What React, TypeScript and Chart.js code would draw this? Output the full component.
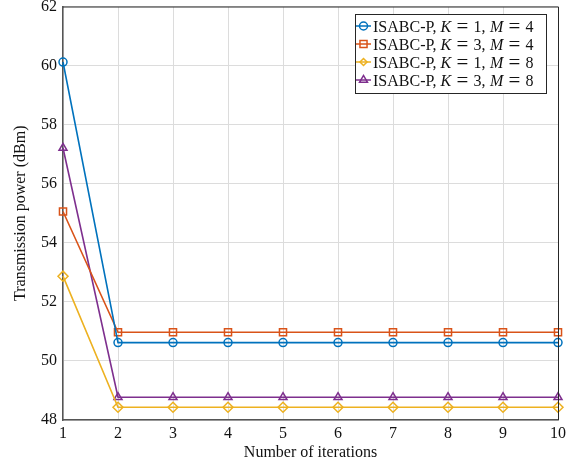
import React, { useEffect, useRef } from "react";
import { Chart, registerables } from "chart.js";
Chart.register(...registerables);

const iterations = [1, 2, 3, 4, 5, 6, 7, 8, 9, 10];
const seriesK1M4 = [60.12, 50.62, 50.62, 50.62, 50.62, 50.62, 50.62, 50.62, 50.62, 50.62];
const seriesK3M4 = [55.06, 50.97, 50.97, 50.97, 50.97, 50.97, 50.97, 50.97, 50.97, 50.97];
const seriesK1M8 = [52.87, 48.43, 48.43, 48.43, 48.43, 48.43, 48.43, 48.43, 48.43, 48.43];
const seriesK3M8 = [57.21, 48.77, 48.77, 48.77, 48.77, 48.77, 48.77, 48.77, 48.77, 48.77];
const legendK = ["1", "3", "1", "3"];
const legendM = ["4", "4", "8", "8"];
const colors = ["#0072BD", "#D95319", "#EDB120", "#7E2F8E"];
const markers = ["circle", "rect", "rectRot", "triangle"];
const radii = [4, 5, 5, 4.6];
const yTitle = "Transmission power (dBm)";
const xTitle = "Number of iterations";

const FONT = '"Liberation Serif", "Times New Roman", serif';
const FS = 16;

function drawMarker(ctx: CanvasRenderingContext2D, style: string, x: number, y: number, r: number) {
  ctx.beginPath();
  if (style === "circle") {
    ctx.arc(x, y, r, 0, Math.PI * 2);
  } else if (style === "rect") {
    const s = r * Math.SQRT1_2;
    ctx.rect(x - s, y - s, 2 * s, 2 * s);
  } else if (style === "rectRot") {
    const s = r * Math.SQRT1_2;
    ctx.moveTo(x - s, y);
    ctx.lineTo(x, y + s);
    ctx.lineTo(x + s, y);
    ctx.lineTo(x, y - s);
    ctx.closePath();
  } else {
    const h = r * 1.5;
    const side = (r * 3) / Math.sqrt(3);
    ctx.moveTo(x - side / 2, y + h / 3);
    ctx.lineTo(x + side / 2, y + h / 3);
    ctx.lineTo(x, y - (2 * h) / 3);
    ctx.closePath();
  }
  ctx.stroke();
}

const framePlugin = {
  id: "frameAndLegend",
  afterDraw(chart: any) {
    const { ctx, chartArea } = chart;
    ctx.save();
    ctx.strokeStyle = "#262626";
    ctx.lineWidth = 1;
    ctx.beginPath();
    ctx.moveTo(chartArea.left, chartArea.top + 0.5);
    ctx.lineTo(chartArea.right + 0.5, chartArea.top + 0.5);
    ctx.lineTo(chartArea.right + 0.5, chartArea.bottom);
    ctx.stroke();

    // legend
    const bx = 355.5, by = 14.5, bw = 191, bh = 79;
    ctx.fillStyle = "#ffffff";
    ctx.fillRect(bx, by, bw, bh);
    ctx.strokeStyle = "#262626";
    ctx.strokeRect(bx, by, bw, bh);
    const rowY = [26, 44, 62, 80];
    const g = 5.2;
    for (let i = 0; i < 4; i++) {
      const y = rowY[i];
      ctx.strokeStyle = colors[i];
      ctx.lineWidth = 1.5;
      ctx.beginPath();
      ctx.moveTo(356, y);
      ctx.lineTo(371, y);
      ctx.stroke();
      drawMarker(ctx, markers[i], 363.5, y, radii[i]);
      const parts: [string, number, boolean, number][] = [
        ["ISABC-P, ", FS, false, 0],
        ["K", FS, true, g],
        ["=", 21, false, g],
        [legendK[i] + ",", FS, false, 4.5],
        ["M", FS, true, g],
        ["=", 21, false, g],
        [legendM[i], FS, false, 0],
      ];
      let x = 373;
      ctx.fillStyle = "#111";
      ctx.textBaseline = "alphabetic";
      ctx.textAlign = "left";
      for (const [t, size, it, after] of parts) {
        ctx.font = (it ? "italic " : "") + size + "px " + FONT;
        ctx.fillText(t, x, t === "=" ? y + 6.5 : y + 6);
        x += ctx.measureText(t).width + after;
      }
    }
    ctx.restore();
  },
};

export default function App() {
  const ref = useRef<HTMLCanvasElement>(null);
  useEffect(() => {
    const all = [seriesK1M4, seriesK3M4, seriesK1M8, seriesK3M8];
    const chart = new Chart(ref.current!, {
      type: "line",
      data: {
        datasets: all.map((s, i) => ({
          label: "ISABC-P, K = " + legendK[i] + ", M = " + legendM[i],
          data: iterations.map((x, j) => ({ x, y: s[j] })),
          borderColor: colors[i],
          backgroundColor: "transparent",
          borderWidth: 1.6,
          pointStyle: markers[i] as any,
          pointRadius: radii[i],
          pointBorderWidth: 1.5,
          pointBorderColor: colors[i],
          pointBackgroundColor: "transparent",
          tension: 0,
          clip: false as any,
        })),
      },
      options: {
        responsive: false,
        animation: false,
        devicePixelRatio: 1,
        layout: { padding: { top: 6, right: 19, left: 0, bottom: 0 } },
        plugins: { legend: { display: false }, tooltip: { enabled: false } },
        scales: {
          x: {
            type: "linear",
            min: 1,
            max: 10,
            ticks: { stepSize: 1, color: "#111", font: { family: FONT, size: FS }, padding: 4 },
            grid: { color: "#dcdcdc", drawTicks: false },
            border: { color: "#555", width: 1.5 },
            title: { display: true, text: xTitle, color: "#111", font: { family: FONT, size: FS }, padding: { top: 0, bottom: 2.5 } },
            afterFit: (s: any) => { s.height = 45; s.paddingLeft = 0; s.paddingRight = 0; },
          },
          y: {
            min: 48,
            max: 62,
            ticks: { stepSize: 2, color: "#111", font: { family: FONT, size: FS }, padding: 6 },
            grid: { color: "#dcdcdc", drawTicks: false },
            border: { color: "#555", width: 1.5 },
            title: { display: true, text: yTitle, color: "#111", font: { family: FONT, size: FS }, padding: { top: 11, bottom: 0 } },
            afterFit: (s: any) => { s.width = 63; s.paddingTop = 0; s.paddingBottom = 0; },
          },
        },
      },
      plugins: [framePlugin],
    });
    return () => chart.destroy();
  }, []);
  return (
    <div style={{ position: "absolute", left: 0, top: 0, width: 577, height: 465, background: "#fff" }}>
      <canvas ref={ref} width={577} height={465} />
    </div>
  );
}
